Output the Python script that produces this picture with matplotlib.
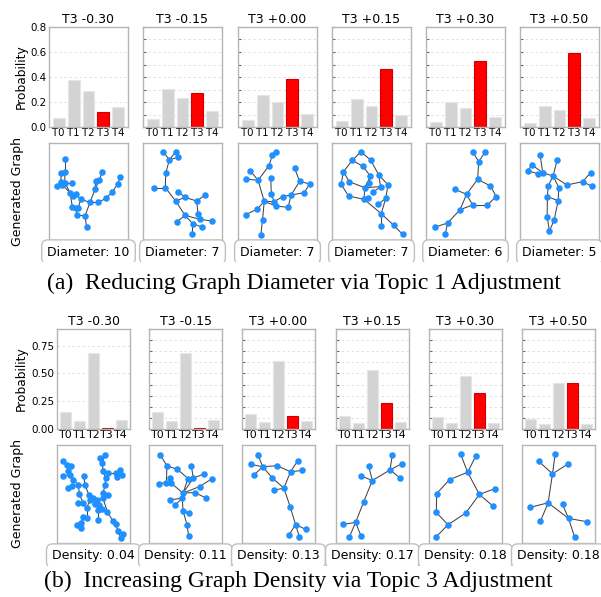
import numpy as np
import matplotlib
matplotlib.use("Agg")
import matplotlib.pyplot as plt
from matplotlib.transforms import Bbox, TransformedBbox

# ---------------- data ----------------
topics = ["T0", "T1", "T2", "T3", "T4"]
titles = ["T3 -0.30", "T3 -0.15", "T3 +0.00", "T3 +0.15", "T3 +0.30", "T3 +0.50"]

probs_a = [
    [0.075, 0.373, 0.285, 0.120, 0.157],
    [0.064, 0.307, 0.235, 0.275, 0.128],
    [0.053, 0.259, 0.197, 0.381, 0.107],
    [0.045, 0.224, 0.171, 0.461, 0.093],
    [0.037, 0.200, 0.152, 0.525, 0.083],
    [0.032, 0.171, 0.133, 0.589, 0.072],
]
probs_b = [
    [0.149, 0.075, 0.687, 0.012, 0.080],
    [0.149, 0.075, 0.687, 0.012, 0.080],
    [0.137, 0.066, 0.612, 0.113, 0.069],
    [0.120, 0.057, 0.534, 0.230, 0.063],
    [0.104, 0.050, 0.475, 0.320, 0.057],
    [0.093, 0.045, 0.412, 0.412, 0.048],
]
labels_a = ["Diameter: 10", "Diameter: 7", "Diameter: 7", "Diameter: 7", "Diameter: 6", "Diameter: 5"]
labels_b = ["Density: 0.04", "Density: 0.11", "Density: 0.13", "Density: 0.17", "Density: 0.18", "Density: 0.18"]
caption_a = "(a)  Reducing Graph Diameter via Topic 1 Adjustment"
caption_b = "(b)  Increasing Graph Density via Topic 3 Adjustment"

# graph layouts: node positions (layout units), edges (node index pairs), and layout extent
a1_nodes = [(59, 57), (59, 95), (49, 100), (47, 125), (60, 128), (37, 138), (52, 135), (80, 128),
            (75, 158), (92, 162), (85, 168), (107, 178), (82, 200), (92, 205), (100, 203), (97, 225),
            (120, 228), (125, 262), (135, 187), (160, 187), (183, 175), (202, 156), (218, 132),
            (226, 110), (150, 148), (152, 124), (163, 120), (172, 95)]
a1_edges = [(0, 1), (1, 2), (1, 4), (2, 3), (3, 5), (3, 6), (4, 6), (4, 7), (6, 8), (4, 8), (8, 10),
            (8, 12), (10, 9), (9, 11), (11, 18), (11, 14), (12, 13), (13, 15), (15, 16), (16, 18),
            (16, 17), (14, 13), (18, 19), (19, 20), (20, 21), (21, 22), (22, 23), (18, 24), (24, 25),
            (24, 26), (26, 27)]
a2_nodes = [(490, 50), (527, 50), (535, 66), (508, 75), (497, 115), (462, 158), (496, 158), (535, 170),
            (555, 187), (527, 198), (590, 198), (614, 181), (555, 241), (530, 261), (578, 266),
            (594, 236), (600, 253), (605, 276), (577, 298), (635, 258)]
a2_edges = [(0, 3), (1, 3), (2, 3), (3, 4), (4, 6), (5, 6), (6, 9), (7, 8), (8, 10), (10, 11), (8, 9),
            (9, 12), (10, 15), (12, 13), (12, 14), (14, 18), (14, 17), (15, 16), (16, 19), (12, 16)]
a3_nodes = [(120, 45), (130, 35), (110, 77), (55, 92), (42, 117), (78, 121), (115, 115), (185, 84),
            (200, 124), (230, 132), (213, 158), (175, 165), (150, 170), (117, 162), (96, 184),
            (125, 185), (130, 198), (166, 202), (76, 207), (42, 224), (91, 241), (86, 284)]
a3_edges = [(0, 2), (1, 0), (2, 5), (3, 5), (4, 5), (5, 14), (6, 13), (13, 15), (7, 8), (8, 9),
            (9, 10), (10, 11), (8, 11), (11, 12), (12, 15), (11, 17), (17, 16), (16, 14), (14, 18),
            (18, 19), (14, 20), (20, 21), (15, 14)]
a4_nodes = [(182, 50), (156, 76), (211, 76), (188, 94), (130, 110), (147, 140), (123, 148), (210, 124),
            (234, 119), (205, 143), (193, 158), (240, 155), (262, 150), (217, 172), (204, 188),
            (191, 193), (145, 183), (255, 190), (233, 208), (242, 236), (242, 274), (279, 271),
            (305, 298)]
a4_edges = [(0, 1), (0, 2), (1, 3), (2, 8), (1, 4), (4, 6), (4, 5), (6, 16), (16, 15), (5, 10), (3, 7),
            (7, 9), (9, 10), (10, 15), (8, 11), (8, 12), (11, 13), (12, 17), (17, 18), (17, 19),
            (15, 19), (10, 11), (15, 14), (19, 20), (19, 21), (21, 22), (7, 10)]
a5_nodes = [(517, 50), (555, 50), (535, 80), (532, 133), (570, 153), (587, 185), (560, 210), (517, 210),
            (499, 178), (465, 163), (480, 224), (443, 264), (407, 276), (436, 298)]
a5_edges = [(0, 2), (1, 2), (2, 3), (3, 4), (4, 5), (5, 6), (6, 7), (7, 8), (3, 8), (9, 8), (8, 10),
            (7, 10), (10, 11), (11, 12), (11, 13)]
a6_nodes = [(721, 60), (772, 74), (697, 90), (684, 107), (716, 117), (729, 113), (760, 123), (745, 153),
            (777, 158), (801, 150), (848, 140), (872, 113), (876, 154), (743, 185), (775, 197),
            (742, 245), (763, 255), (749, 288)]
a6_edges = [(0, 5), (2, 3), (2, 5), (3, 4), (4, 5), (5, 6), (1, 6), (6, 7), (6, 8), (6, 9), (9, 10),
            (10, 11), (10, 12), (7, 13), (8, 14), (13, 14), (13, 15), (14, 16), (15, 17), (16, 17)]

b1_nodes = [(28, 60), (40, 72), (52, 75), (44, 88), (28, 105), (50, 100), (58, 115), (43, 140), (55, 135),
            (75, 130), (92, 105), (95, 130), (78, 158), (107, 160), (90, 185), (75, 185), (100, 200),
            (110, 175), (120, 170), (133, 175), (125, 188), (138, 190), (150, 170), (150, 155),
            (165, 160), (156, 130), (158, 110), (150, 90), (148, 65), (142, 50), (155, 42), (165, 95),
            (190, 95), (203, 85), (207, 100), (193, 108), (135, 205), (135, 235), (147, 203),
            (163, 210), (100, 228), (90, 225), (83, 245), (72, 250), (83, 258), (180, 238),
            (190, 248), (195, 268), (210, 275), (204, 287)]
b1_edges = [(0, 1), (1, 2), (1, 3), (3, 5), (4, 5), (5, 6), (6, 9), (7, 8), (8, 9), (9, 11), (10, 11),
            (11, 13), (9, 12), (13, 18), (12, 14), (14, 15), (14, 16), (16, 40), (40, 41), (41, 42),
            (42, 43), (42, 44), (13, 17), (17, 18), (18, 19), (19, 20), (20, 21), (19, 22), (22, 23),
            (23, 24), (23, 25), (25, 26), (26, 27), (27, 28), (28, 29), (28, 30), (27, 31), (31, 32),
            (32, 33), (32, 34), (32, 35), (21, 36), (36, 37), (21, 38), (22, 39), (39, 45), (45, 46),
            (46, 47), (47, 48), (47, 49), (16, 17)]
b2_nodes = [(482, 45), (502, 78), (533, 88), (575, 78), (613, 102), (636, 117), (565, 116), (581, 115),
            (510, 115), (500, 128), (478, 131), (515, 130), (600, 140), (585, 158), (620, 175),
            (550, 160), (548, 175), (512, 180), (527, 195), (550, 213), (567, 220), (562, 255),
            (567, 290)]
b2_edges = [(0, 1), (1, 2), (2, 6), (3, 7), (7, 15), (6, 15), (1, 9), (9, 10), (9, 11), (11, 15),
            (4, 7), (5, 12), (12, 15), (13, 15), (14, 13), (15, 16), (16, 17), (16, 18), (16, 19),
            (19, 20), (19, 21), (21, 22), (8, 11)]
b3_nodes = [(68, 43), (47, 70), (82, 77), (55, 102), (125, 74), (186, 60), (165, 92), (200, 88),
            (110, 110), (145, 141), (116, 147), (164, 197), (180, 250), (210, 264), (161, 280),
            (191, 286)]
b3_edges = [(0, 2), (1, 2), (3, 2), (2, 4), (4, 6), (5, 6), (7, 6), (2, 8), (8, 9), (6, 9), (10, 9),
            (9, 11), (11, 12), (12, 13), (12, 14), (12, 15)]
b4_nodes = [(276, 44), (305, 71), (269, 90), (300, 115), (205, 78), (182, 108), (216, 122), (190, 186),
            (166, 248), (127, 254), (147, 292), (182, 289)]
b4_edges = [(0, 2), (1, 2), (3, 2), (2, 6), (4, 6), (5, 6), (6, 7), (7, 8), (8, 9), (8, 10), (8, 11)]
b5_nodes = [(481, 43), (527, 47), (502, 97), (448, 119), (409, 161), (537, 164), (584, 146), (577, 198),
            (496, 220), (408, 218), (443, 255), (407, 292)]
b5_edges = [(0, 2), (1, 2), (2, 3), (3, 4), (4, 9), (9, 10), (10, 11), (10, 8), (8, 5), (5, 2), (5, 6),
            (5, 7)]
b6_nodes = [(766, 43), (717, 64), (804, 72), (758, 102), (745, 189), (690, 203), (722, 245), (788, 194),
            (806, 236), (861, 246), (824, 292)]
b6_edges = [(0, 3), (1, 3), (2, 3), (3, 4), (4, 5), (4, 6), (4, 8), (7, 8), (8, 9), (8, 10)]

graphs_a = [(a1_nodes, a1_edges), (a2_nodes, a2_edges), (a3_nodes, a3_edges),
            (a4_nodes, a4_edges), (a5_nodes, a5_edges), (a6_nodes, a6_edges)]
graphs_b = [(b1_nodes, b1_edges), (b2_nodes, b2_edges), (b3_nodes, b3_edges),
            (b4_nodes, b4_edges), (b5_nodes, b5_edges), (b6_nodes, b6_edges)]
# layout extents (x0, x1, y0, y1) of each graph drawing
extent_a = [(12, 249, 9, 300), (429, 666, 24, 315), (19, 251, 9, 300),
            (96, 330, 24, 315), (379, 613, 24, 315), (661, 897, 24, 315)]
extent_b = [(10, 232, 12, 303), (448, 667, 15, 310), (20, 238, 12, 305),
            (107, 326, 15, 310), (386, 605, 15, 310), (667, 885, 15, 310)]

# ---------------- figure ----------------
W, H = 601, 597
fig = plt.figure(figsize=(W / 100, H / 100), dpi=100)
fig.patch.set_facecolor("white")

SPINE = "#b5b5b5"
GRAY = "#d3d3d3"
NODE = "#1e90ff"


def add_ax(x, y, w, h):
    return fig.add_axes([x / W, 1 - (y + h) / H, w / W, h / H])


sections = [
    dict(xs=[49, 143, 238, 332, 426, 520], w=79, bar_top=27, bar_h=100, g_top=143, g_h=97,
         box_y=252, clip_y=262, cap_y=283, cap_x=304, ymax=0.8,
         major=[0, 0.2, 0.4, 0.6, 0.8], fmt="{:.1f}", xfs=7.3, yfs=7.4,
         probs=probs_a, labels=labels_a, graphs=graphs_a, extents=extent_a, caption=caption_a),
    dict(xs=[57, 149, 242, 336, 429, 522], w=73, bar_top=329, bar_h=100, g_top=445, g_h=98,
         box_y=556, clip_y=566, cap_y=581, cap_x=298, ymax=0.9,
         major=[0, 0.25, 0.5, 0.75], fmt="{:.2f}", xfs=7.9, yfs=7.5,
         probs=probs_b, labels=labels_b, graphs=graphs_b, extents=extent_b, caption=caption_b),
]

for sec in sections:
    w = sec["w"]
    for i, x0 in enumerate(sec["xs"]):
        # ---- bar chart ----
        ax = add_ax(x0, sec["bar_top"], w, sec["bar_h"])
        vals = sec["probs"][i]
        cols = ["red" if t == "T3" else GRAY for t in topics]
        ecs = ["#d00000" if t == "T3" else "#e6e6e6" for t in topics]
        ax.bar(np.arange(len(topics)), vals, width=0.8, color=cols, edgecolor=ecs,
               linewidth=0.8, zorder=2)
        ax.set_ylim(0, sec["ymax"])
        ax.set_xticks(np.arange(len(topics)))
        ax.set_xticklabels(topics, fontsize=sec["xfs"])
        ax.tick_params(axis="x", length=0, pad=1)
        if i == 0:
            ax.set_yticks(sec["major"])
            ax.set_yticklabels([sec["fmt"].format(v) for v in sec["major"]], fontsize=sec["yfs"])
            ax.tick_params(axis="y", length=0, pad=2)
        else:
            ax.set_yticks(np.arange(0, sec["ymax"] + 1e-9, 0.1))
            ax.set_yticklabels([])
            ax.tick_params(axis="y", length=2, direction="in", color="#666666")
        ax.grid(axis="y", color="#dcdcdc", linestyle=(0, (3, 3)), linewidth=0.6, zorder=0)
        ax.set_axisbelow(True)
        for s in ax.spines.values():
            s.set_color(SPINE)
            s.set_linewidth(1.0)
        ax.set_title(titles[i], fontsize=9, pad=3)

        # ---- graph ----
        gx = add_ax(x0, sec["g_top"], w, sec["g_h"])
        nodes, edges = sec["graphs"][i]
        ex0, ex1, ey0, ey1 = sec["extents"][i]
        xy = np.array(nodes, dtype=float)
        for a, b in edges:
            gx.plot([xy[a, 0], xy[b, 0]], [xy[a, 1], xy[b, 1]], color="#444444", lw=0.75, zorder=1)
        gx.scatter(xy[:, 0], xy[:, 1], s=22, color=NODE, linewidths=0, zorder=2)
        gx.set_xlim(ex0, ex1)
        gx.set_ylim(ey1, ey0)
        gx.set_xticks([])
        gx.set_yticks([])
        for s in gx.spines.values():
            s.set_color(SPINE)
            s.set_linewidth(1.0)

        # ---- label box ----
        cx = x0 + w / 2
        t = fig.text(cx / W, 1 - sec["box_y"] / H, sec["labels"][i], fontsize=9,
                     ha="center", va="center",
                     bbox=dict(boxstyle="round,pad=0.45,rounding_size=0.5", fc="white",
                               ec="#c0c0c0", lw=1.0))
        clip = TransformedBbox(Bbox([[0, 1 - sec["clip_y"] / H], [1, 1]]), fig.transFigure)
        t.set_clip_box(clip)
        t.set_clip_on(True)

    # row labels
    fig.text(21 / W, 1 - (sec["bar_top"] + sec["bar_h"] / 2) / H, "Probability",
             rotation=90, fontsize=8.8, ha="center", va="center")
    fig.text(18 / W, 1 - (sec["g_top"] + sec["g_h"] / 2) / H, "Generated Graph",
             rotation=90, fontsize=9, ha="center", va="center")
    # caption
    fig.text(sec["cap_x"] / W, 1 - sec["cap_y"] / H, sec["caption"], fontsize=17,
             family="Liberation Serif", ha="center", va="center")

fig.savefig("out.png", dpi=100, facecolor="white")
